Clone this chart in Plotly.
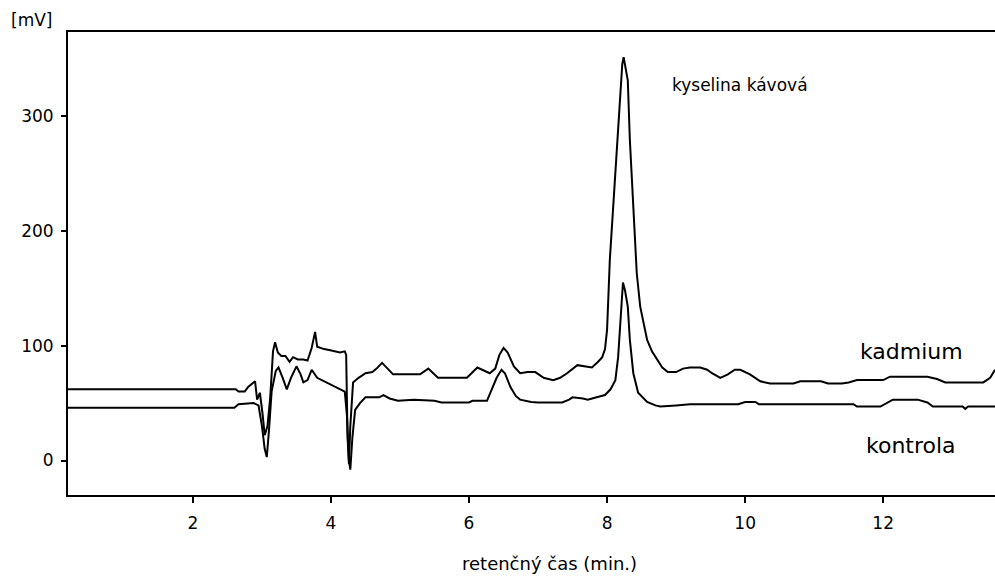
import plotly.graph_objects as go

# ---- data ----
time_kadmium = [0.19, 2.62, 2.66, 2.75, 2.80, 2.90, 2.93, 2.97, 3.01, 3.04, 3.08, 3.12, 3.16, 3.19,
                3.23, 3.28, 3.34, 3.40, 3.45, 3.52, 3.60, 3.66, 3.72, 3.77, 3.80, 3.90, 3.99, 4.13,
                4.20, 4.22, 4.24, 4.26, 4.28, 4.32, 4.40, 4.50, 4.60, 4.66, 4.74, 4.82, 4.90, 5.29,
                5.41, 5.55, 5.97, 6.12, 6.22, 6.30, 6.38, 6.44, 6.50, 6.56, 6.65, 6.74, 6.85, 6.96,
                7.08, 7.22, 7.32, 7.42, 7.57, 7.78, 7.87, 7.93, 7.97, 8.00, 8.04, 8.08, 8.13, 8.18,
                8.22, 8.24, 8.27, 8.30, 8.33, 8.38, 8.43, 8.48, 8.53, 8.58, 8.65, 8.72, 8.80, 8.88,
                9.00, 9.10, 9.20, 9.35, 9.45, 9.52, 9.64, 9.75, 9.85, 9.93, 10.07, 10.22, 10.36,
                10.70, 10.80, 11.10, 11.20, 11.40, 11.50, 11.62, 12.00, 12.10, 12.64, 12.78, 12.90,
                13.45, 13.55, 13.62]
signal_kadmium = [62, 62, 60, 60, 64, 69, 53, 59, 40, 22, 30, 55, 95, 103,
                  94, 91, 91, 86, 90, 88, 88, 87, 98, 112, 99, 97, 96, 94,
                  95, 92, 20, -3, 30, 68, 72, 76, 77, 80, 85, 80, 75, 75,
                  80, 72, 72, 81, 78, 76, 80, 92, 98, 94, 82, 76, 77, 77,
                  72, 70, 72, 76, 83, 81, 86, 90, 97, 114, 175, 212, 256, 308,
                  345, 351, 340, 331, 279, 221, 163, 134, 118, 105, 95, 88, 81, 77,
                  77, 80, 81, 81, 79, 76, 72, 75, 79, 79, 75, 69, 67,
                  67, 69, 69, 67, 67, 68, 70, 70, 73, 73, 71, 68,
                  68, 72, 79]

time_kontrola = [0.19, 2.60, 2.66, 2.80, 2.88, 2.95, 3.00, 3.04, 3.07, 3.10, 3.14, 3.20, 3.24,
                 3.30, 3.36, 3.42, 3.50, 3.56, 3.60, 3.66, 3.72, 3.80, 3.90, 4.00, 4.15, 4.20,
                 4.23, 4.26, 4.28, 4.31, 4.35, 4.42, 4.50, 4.70, 4.76, 4.85, 4.97, 5.20, 5.50,
                 5.60, 6.00, 6.05, 6.26, 6.32, 6.40, 6.47, 6.52, 6.60, 6.68, 6.74, 6.90, 7.00,
                 7.35, 7.45, 7.50, 7.65, 7.72, 7.85, 7.97, 8.05, 8.12, 8.16, 8.19, 8.21, 8.23,
                 8.26, 8.30, 8.33, 8.38, 8.45, 8.52, 8.58, 8.70, 8.77, 9.00, 9.20, 9.90, 10.00,
                 10.15, 10.20, 11.57, 11.62, 11.96, 12.06, 12.14, 12.50, 12.64, 12.72, 13.15,
                 13.19, 13.23, 13.62]
signal_kontrola = [46, 46, 49, 50, 50, 48, 30, 10, 3, 25, 60, 78, 81,
                   72, 62, 72, 82, 75, 68, 70, 79, 72, 69, 66, 62, 60,
                   40, 0, -8, 20, 44, 50, 55, 55, 57, 54, 52, 53, 52,
                   50.5, 50.5, 52, 52, 60, 72, 79, 76, 64, 56, 53, 51, 50.5,
                   50.5, 53, 55, 54, 53, 55, 57, 62, 70, 90, 120, 145, 155,
                   148, 134, 105, 76, 59, 55, 51, 48, 47, 48, 49, 49, 51,
                   51, 49, 49, 47, 47, 50, 53, 53, 50.5, 47, 47,
                   45, 47, 47]

x_ticks = [2, 4, 6, 8, 10, 12]
y_ticks = [0, 100, 200, 300]

FONT = "DejaVu Sans, Verdana, sans-serif"

# figure fills the whole 995x578 window (body margin removed below)
FIG_W, FIG_H = 995, 578
plot_l, plot_r, plot_t, plot_b = 68, 995, 32, 495

fig = go.Figure()
fig.add_trace(go.Scatter(x=time_kadmium, y=signal_kadmium, mode="lines",
                         line=dict(color="black", width=2), name="kadmium"))
fig.add_trace(go.Scatter(x=time_kontrola, y=signal_kontrola, mode="lines",
                         line=dict(color="black", width=2), name="kontrola"))

fig.add_annotation(x=8.91, y=327, xref="x", yref="y", text="kyselina kávová",
                   showarrow=False, xanchor="left", yanchor="middle",
                   font=dict(size=17, color="black", family=FONT))
fig.add_annotation(x=12.41, y=95, xref="x", yref="y", text="kadmium",
                   showarrow=False, xanchor="center", yanchor="middle",
                   font=dict(size=22, color="black", family=FONT))
fig.add_annotation(x=12.41, y=13, xref="x", yref="y", text="kontrola",
                   showarrow=False, xanchor="center", yanchor="middle",
                   font=dict(size=22, color="black", family=FONT))

# pixel-positioned texts (page px -> paper fractions)
def paper(px, py):
    return (px - plot_l) / (plot_r - plot_l), (plot_b - py) / (plot_b - plot_t)

ax, ay = paper(31, 20)
fig.add_annotation(x=ax, y=ay, xref="paper", yref="paper", text="[mV]",
                   showarrow=False, xanchor="center", yanchor="middle",
                   font=dict(size=17, color="black", family=FONT))
tx, ty = paper(549, 563)
fig.add_annotation(x=tx, y=ty, xref="paper", yref="paper", text="retenčný čas (min.)",
                   showarrow=False, xanchor="center", yanchor="middle",
                   font=dict(size=18, color="black", family=FONT))

fig.update_layout(
    width=FIG_W, height=FIG_H,
    margin=dict(l=plot_l, r=FIG_W - plot_r, t=plot_t, b=FIG_H - plot_b),
    plot_bgcolor="white", paper_bgcolor="white",
    showlegend=False,
    font=dict(family=FONT, size=17, color="black"),
    xaxis=dict(range=[0.19, 13.62], tickvals=x_ticks, ticks="outside", ticklen=6,
               tickwidth=1.5, tickcolor="black", showline=True, linecolor="black",
               linewidth=2, mirror=True, showgrid=False, zeroline=False,
               ticklabelstandoff=6),
    yaxis=dict(range=[-30, 373], tickvals=y_ticks, ticks="outside", ticklen=5,
               tickwidth=1.5, tickcolor="black", showline=True, linecolor="black",
               linewidth=2, showgrid=False, zeroline=False, ticklabelstandoff=4),
)

fig.write_html("out.html",
               config={"displayModeBar": False},
               post_script="document.body.style.margin='0';document.body.style.overflow='hidden';")
